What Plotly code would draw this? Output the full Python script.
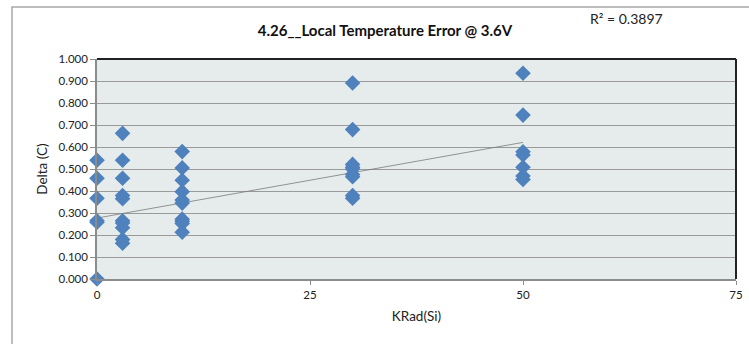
import plotly.graph_objects as go

# Data
krad_0 = [0, 0, 0, 0, 0, 0]
delta_0 = [0.540, 0.458, 0.367, 0.265, 0.258, 0.000]
krad_3 = [3] * 10
delta_3 = [0.662, 0.540, 0.458, 0.379, 0.365, 0.265, 0.255, 0.233, 0.180, 0.163]
krad_10 = [10] * 10
delta_10 = [0.579, 0.505, 0.449, 0.397, 0.359, 0.345, 0.272, 0.262, 0.252, 0.213]
krad_30 = [30] * 9
delta_30 = [0.891, 0.679, 0.521, 0.508, 0.500, 0.475, 0.465, 0.379, 0.367]
krad_50 = [50] * 7
delta_50 = [0.935, 0.745, 0.578, 0.564, 0.508, 0.468, 0.452]

# Linear trendline as drawn in the reference (endpoints)
trend_x = [0, 50]
trend_y = [0.277, 0.621]

x_ticks = [0, 25, 50, 75]
y_ticks = [0.0, 0.1, 0.2, 0.3, 0.4, 0.5, 0.6, 0.7, 0.8, 0.9, 1.0]

title_text = "4.26__Local Temperature Error @ 3.6V"
r2_text = "R² = 0.3897"

xs = krad_0 + krad_3 + krad_10 + krad_30 + krad_50
ys = delta_0 + delta_3 + delta_10 + delta_30 + delta_50

FONT = "Lato, Carlito, Calibri, sans-serif"

W, H = 749, 344
L, R, T, B = 97, 13, 59, 65
PW, PH = W - L - R, H - T - B

def px_x(p):
    return (p - L) / PW

def px_y(p):
    return (H - B - p) / PH

fig = go.Figure()
fig.add_trace(go.Scatter(
    x=trend_x, y=trend_y, mode="lines",
    line=dict(color="#7a7a7a", width=0.8),
    showlegend=False, hoverinfo="skip",
))
fig.add_trace(go.Scatter(
    x=xs, y=ys, mode="markers",
    marker=dict(symbol="diamond", size=12, color="#4F81BD", line=dict(width=0)),
    showlegend=False, cliponaxis=False,
))

fig.update_layout(
    width=W, height=H,
    margin=dict(l=L, r=R, t=T, b=B, autoexpand=False),
    paper_bgcolor="white",
    plot_bgcolor="#E6ECEC",
    font=dict(family=FONT, size=11, color="#222"),
    title=dict(text="<b>" + title_text + "</b>", x=385 / W, xanchor="center",
               y=1 - 31 / H, yanchor="middle", font=dict(size=15, family=FONT, color="#111")),
    xaxis=dict(
        range=[0, 75], tickvals=x_ticks, ticktext=[str(v) for v in x_ticks],
        showgrid=False, zeroline=False, automargin=False,
        showline=True, linecolor="#8c8c8c", linewidth=2,
        ticks="outside", ticklen=4, tickcolor="#8c8c8c",
        tickfont=dict(size=11.5, family=FONT),
        title=dict(text="KRad(Si)", font=dict(size=13.5, family=FONT), standoff=12),
    ),
    yaxis=dict(
        range=[0, 1.0], tickvals=y_ticks, ticktext=["%.3f" % v for v in y_ticks],
        showgrid=True, gridcolor="#9a9a9a", gridwidth=1.2, zeroline=False, automargin=False,
        showline=True, linecolor="#8c8c8c", linewidth=1.5,
        ticks="outside", ticklen=5, tickcolor="#8c8c8c",
        tickfont=dict(size=11.5, family=FONT),
        title=dict(text="Delta (C)", font=dict(size=13.5, family=FONT), standoff=8),
    ),
    shapes=[
        dict(type="line", xref="paper", yref="paper", x0=0, x1=1, y0=1, y1=1,
             line=dict(color="#222", width=2)),
        dict(type="line", xref="paper", yref="paper", x0=1, x1=1, y0=0, y1=1,
             line=dict(color="#222", width=2)),
        dict(type="rect", xref="paper", yref="paper",
             x0=px_x(12), x1=px_x(W + 20),
             y0=px_y(H + 20), y1=px_y(7),
             line=dict(color="#a8a8a8", width=1.5), layer="below"),
    ],
    annotations=[
        dict(text=r2_text, xref="paper", yref="paper",
             x=px_x(626), y=px_y(19), xanchor="center", yanchor="middle",
             showarrow=False, font=dict(size=14, family=FONT, color="#222")),
    ],
)

fig.write_html("out.html",
               config={"displayModeBar": False},
               post_script="document.body.style.margin='0';document.body.style.overflow='hidden';")
